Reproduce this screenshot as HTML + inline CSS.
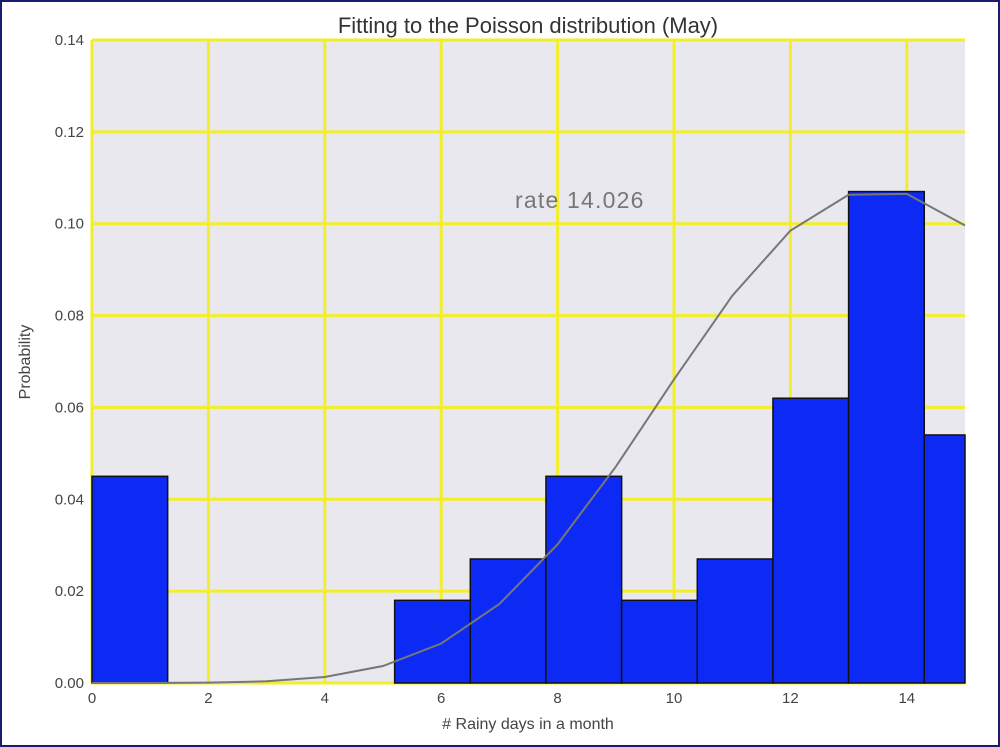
<!DOCTYPE html>
<html><head><meta charset="utf-8"><style>
body{margin:0;background:#fff;}
svg{display:block;font-family:"Liberation Sans",sans-serif;}
</style></head><body>
<svg id="chart" width="1000" height="747">
<rect x="1" y="1" width="998" height="745" fill="#fff" stroke="#1a1a6e" stroke-width="2"/>
<rect x="92" y="40" width="873" height="643" fill="#e8e8ee"/>
<g id="grid"></g><g id="bars"></g><g id="line"></g><g id="axes"></g>
<text x="528" y="33" text-anchor="middle" font-size="22" fill="#333">Fitting to the Poisson distribution (May)</text>
<text x="528" y="729" text-anchor="middle" font-size="16" fill="#444"># Rainy days in a month</text>
<text transform="translate(30,362) rotate(-90)" text-anchor="middle" font-size="16" fill="#444">Probability</text>
<text x="515" y="208" font-size="23" letter-spacing="1.2" fill="#777">rate 14.026</text>
</svg>
<script>
const binEdges=[0,1.3,2.6,3.9,5.2,6.5,7.8,9.1,10.4,11.7,13,14.3,15.6];
const binValues=[0.045,0,0,0,0.018,0.027,0.045,0.018,0.027,0.062,0.107,0.054];
const pmfK=[0,1,2,3,4,5,6,7,8,9,10,11,12,13,14,15];
const pmfValues=[0,0.00001,0.00008,0.00037,0.0013,0.0037,0.0086,0.0172,0.0302,0.0471,0.0661,0.0843,0.0985,0.1063,0.1065,0.0996];
const xTicks=[0,2,4,6,8,10,12,14];
const yTicks=[0,0.02,0.04,0.06,0.08,0.10,0.12,0.14];
const X0=92,X1=965,Y0=683,Y1=40,XMAX=15,YMAX=0.14;
const sx=v=>X0+v/XMAX*(X1-X0), sy=v=>Y0-v/YMAX*(Y0-Y1);
const NS="http://www.w3.org/2000/svg";
function mk(t,p,a){const e=document.createElementNS(NS,t);for(const k in a)e.setAttribute(k,a[k]);p.appendChild(e);return e;}
const g=document.getElementById('grid'),b=document.getElementById('bars'),l=document.getElementById('line'),ax=document.getElementById('axes');
xTicks.forEach(t=>{const e=mk('line',g,{x1:sx(t),x2:sx(t),y1:Y1,y2:Y0,stroke:'#f2ee2a','stroke-width':3});


const tx=mk('text',ax,{x:sx(t),y:Y0+20,'text-anchor':'middle','font-size':15,fill:'#444'});tx.textContent=t;

});
yTicks.forEach(t=>{const e=mk('line',g,{x1:X0,x2:X1,y1:sy(t),y2:sy(t),stroke:'#f2ee2a','stroke-width':3});


const tx=mk('text',ax,{x:X0-8,y:sy(t)+5,'text-anchor':'end','font-size':15,fill:'#444'});tx.textContent=t.toFixed(2);

});
binValues.forEach((v,i)=>{if(v<=0)return;const x0=sx(binEdges[i]),x1=Math.min(sx(binEdges[i+1]),X1);
const r=mk('rect',b,{x:x0,y:sy(v),width:x1-x0,height:Y0-sy(v),fill:'#0d2af5',stroke:'#111','stroke-width':1.5});

});
const p=mk('polyline',l,{points:pmfK.map((k,i)=>sx(k)+','+sy(pmfValues[i])).join(' '),fill:'none',stroke:'#777','stroke-width':2});


</script>
</body></html>
